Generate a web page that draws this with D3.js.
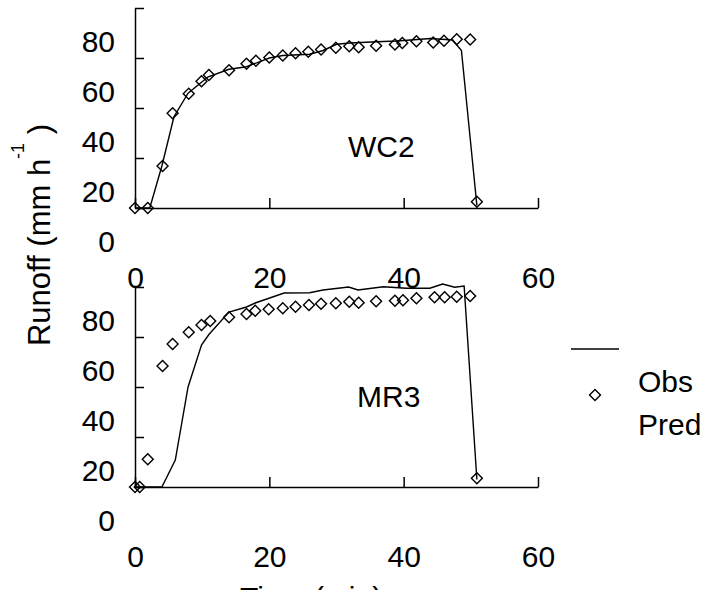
<!DOCTYPE html>
<html>
  <head>
    <meta charset="utf-8" />
    <title>Runoff hydrographs</title>
    <style>
      body {
        margin: 0;
        background: #fff;
        font-family: "Liberation Sans", Arial, sans-serif;
      }
      .line {
        fill: none;
        stroke: #000;
        stroke-width: 1.4px;
      }
      .pt {
        fill: none;
        stroke: #000;
        stroke-width: 1.4px;
      }
    </style>
    <script src="https://d3js.org/d3.v7.min.js"></script>
  </head>
  <body>
    <div id="chart"></div>
    <script>
      // time in min, runoff in mm/h
      const xTicks = [0, 20, 40, 60];
      const yTicks = [0, 20, 40, 60, 80];

      const wc2Time = [0, 1.9, 4.1, 5.6, 8, 9.9, 11, 14, 16.6, 18, 20, 22, 23.9, 25.8, 27.7, 29.9, 31.9, 33.3, 35.9, 38.7, 39.8, 41.9, 44.4, 46, 47.9, 49.9, 50.9];
      const wc2Obs = [0, 0, 16.8, 37.9, 45.7, 50.7, 53.2, 55.1, 57.7, 58.9, 60.2, 61, 61.9, 62.5, 63.4, 64.1, 64.7, 64.3, 64.9, 65.4, 66, 66.7, 66.2, 66.9, 67.5, 67.4, 2.5];
      const wc2PredTime = [0, 2.2, 4, 5.8, 7.9, 10.9, 14, 16.6, 20, 22, 26, 28, 30, 32, 36, 39, 44, 47.3, 48.6, 50.9];
      const wc2Pred = [0, 0, 16.8, 36.5, 45.9, 52.5, 55.5, 56.5, 60, 61, 61.5, 63, 65.5, 66, 66.5, 66.8, 67.8, 67.2, 63, 1];

      const mr3Time = [0, 0.7, 1.9, 4.1, 5.6, 8, 9.9, 11.2, 14, 16.6, 17.9, 19.9, 22, 23.9, 25.9, 27.7, 29.9, 31.9, 33.3, 35.9, 38.7, 39.9, 41.9, 44.6, 46.1, 47.9, 49.9, 50.9];
      const mr3Obs = [0, 0, 11.1, 48.4, 57.2, 61.9, 64.8, 66.4, 67.9, 69.2, 70.5, 71.1, 71.5, 72.1, 72.8, 73.3, 73.5, 74.1, 73.7, 74.3, 74.5, 74.7, 75.5, 75.9, 75.9, 76.1, 76.4, 3.5];
      const mr3PredTime = [0, 4, 6, 7.9, 9.9, 11, 14, 16.6, 18, 22.2, 26, 28, 31.8, 33.2, 37, 40.4, 43.9, 45.8, 47.6, 49, 50.9];
      const mr3Pred = [0, 0, 10.8, 40, 56.8, 61, 70, 72, 73.7, 77.6, 77.7, 78.8, 80, 78.8, 80.1, 79.5, 79.5, 81.2, 79.9, 80.4, 3];

      const panelNames = ["WC2", "MR3"];
      const legendNames = ["Obs", "Pred"];

      const W = 708, H = 590;
      const fontSize = 30;

      const svg = d3.select("#chart").append("svg")
        .attr("width", W)
        .attr("height", H)
        .style("font-family", "'Liberation Sans', Arial, sans-serif");

      const x = d3.scaleLinear().domain([0, 60]).range([135, 538]);

      const panels = [
        { name: panelNames[0], top: 8, bottom: 208, obsT: wc2Time, obs: wc2Obs, predT: wc2PredTime, pred: wc2Pred, lx: 348, ly: 157 },
        { name: panelNames[1], top: 287, bottom: 487, obsT: mr3Time, obs: mr3Obs, predT: mr3PredTime, pred: mr3Pred, lx: 357, ly: 407 }
      ];

      const diamond = d3.symbol(d3.symbolSquare, 60);

      panels.forEach(p => {
        const y = d3.scaleLinear().domain([0, 80]).range([p.bottom, p.top]);
        const g = svg.append("g");

        // y axis, ticks pointing inward, labels sit lower than the ticks
        const ya = g.append("g")
          .attr("transform", `translate(${x(0)},0)`)
          .call(d3.axisLeft(y).tickValues(yTicks).tickSizeInner(-9).tickSizeOuter(0).tickPadding(20));
        ya.selectAll("text")
          .attr("font-size", fontSize)
          .attr("font-family", "'Liberation Sans', Arial, sans-serif")
          .attr("fill", "#000")
          .attr("y", 33)
          .attr("dy", "0.36em");

        // x axis
        const xa = g.append("g")
          .attr("transform", `translate(0,${p.bottom})`)
          .call(d3.axisBottom(x).tickValues(xTicks).tickSizeInner(-10).tickSizeOuter(0));
        xa.selectAll("text")
          .attr("font-size", fontSize)
          .attr("font-family", "'Liberation Sans', Arial, sans-serif")
          .attr("fill", "#000")
          .attr("y", 69)
          .attr("dy", "0.36em");

        g.selectAll(".domain, .tick line")
          .attr("stroke", "#000")
          .attr("stroke-width", 1.5);

        const predPts = p.predT.map((t, i) => [t, p.pred[i]]);
        g.append("path")
          .datum(predPts)
          .attr("class", "line")
          .attr("d", d3.line().x(d => x(d[0])).y(d => y(d[1])));

        const obsPts = p.obsT.map((t, i) => [t, p.obs[i]]);
        g.selectAll(".pt")
          .data(obsPts)
          .join("path")
          .attr("class", "pt")
          .attr("d", diamond)
          .attr("transform", d => `translate(${x(d[0])},${y(d[1])}) rotate(45)`);

        g.append("text")
          .attr("x", p.lx)
          .attr("y", p.ly)
          .attr("font-size", fontSize)
          .text(p.name);
      });

      // legend
      const leg = svg.append("g");
      leg.append("line")
        .attr("x1", 571).attr("x2", 619)
        .attr("y1", 349).attr("y2", 349)
        .attr("stroke", "#000")
        .attr("stroke-width", 1.5);
      leg.append("path")
        .attr("class", "pt")
        .attr("d", diamond)
        .attr("transform", "translate(595,395) rotate(45)");
      leg.selectAll(".lt")
        .data(legendNames)
        .join("text")
        .attr("class", "lt")
        .attr("x", 638)
        .attr("y", (d, i) => 392 + i * 43)
        .attr("font-size", fontSize)
        .text(d => d);

      // axis titles
      const yt = svg.append("text")
        .attr("transform", "translate(50,235) rotate(-90)")
        .attr("text-anchor", "middle")
        .attr("font-size", 31);
      yt.append("tspan").text("Runoff (mm h");
      yt.append("tspan").attr("font-size", 18).attr("dy", -26).text("-1");
      yt.append("tspan").attr("dy", 26).text(" )");

      svg.append("text")
        .attr("x", 240)
        .attr("y", 608)
        .attr("font-size", fontSize)
        .text("Time (min)");
    </script>
  </body>
</html>
